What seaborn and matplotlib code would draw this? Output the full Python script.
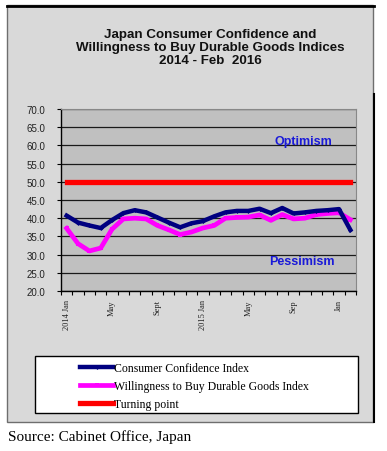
import numpy as np
import pandas as pd
import matplotlib
matplotlib.use("Agg")
import matplotlib.pyplot as plt
import seaborn as sns
from matplotlib.patches import Rectangle
from matplotlib.lines import Line2D

# ---- data (monthly, Jan 2014 .. Feb 2016) ----
months = ["2014 Jan", "Feb", "Mar", "Apr", "May", "Jun", "Jul", "Aug", "Sept", "Oct", "Nov", "Dec",
          "2015 Jan", "Feb", "Mar", "Apr", "May", "Jun", "Jul", "Aug", "Sep", "Oct", "Nov", "Dec",
          "Jan", "Feb"]
confidence = [40.7, 38.8, 38.0, 37.3, 39.5, 41.4, 42.2, 41.6, 40.2, 38.8, 37.5, 38.6,
              39.2, 40.5, 41.6, 42.0, 42.0, 42.6, 41.4, 42.8, 41.3, 41.6, 42.0, 42.2,
              42.5, 36.8]
willingness = [37.2, 33.0, 31.0, 31.8, 37.0, 39.8, 40.0, 39.8, 38.0, 36.8, 35.5, 36.2,
               37.3, 38.0, 40.0, 40.2, 40.3, 40.9, 39.4, 41.0, 39.8, 40.0, 41.0, 41.3,
               41.5, 39.6]
turning_point = [50.0] * 26
shown_ticks = [0, 4, 8, 12, 16, 20, 24]
shown_labels = ["2014 Jan", "May", "Sept", "2015 Jan", "May", "Sep", "Jan"]
yticks = [20, 25, 30, 35, 40, 45, 50, 55, 60, 65, 70]

df = pd.DataFrame({"month": np.arange(len(months)),
                   "confidence": confidence,
                   "willingness": willingness,
                   "turning": turning_point})

W, H = 387, 452
fig = plt.figure(figsize=(W / 100, H / 100), dpi=100)
fig.patch.set_facecolor("white")

def fx(px):
    return px / W

def fy(py):
    return 1 - py / H

# outer gray frame
fig.patches.append(Rectangle((fx(7), fy(423)), fx(373) - fx(7), fy(6) - fy(423),
                             transform=fig.transFigure, facecolor="#d9d9d9",
                             edgecolor="#6e6e6e", lw=1.0, zorder=-5))
fig.lines.append(Line2D([fx(7), fx(374)], [fy(6.5), fy(6.5)], transform=fig.transFigure,
                        color="black", lw=2.0, zorder=-4))
fig.lines.append(Line2D([fx(373.5), fx(373.5)], [fy(95), fy(423)], transform=fig.transFigure,
                        color="black", lw=1.5, zorder=-4))

# title
fig.text(fx(210), fy(48), "Japan Consumer Confidence and\nWillingness to Buy Durable Goods Indices\n2014 - Feb  2016",
         ha="center", va="center", fontsize=9.6, fontweight="bold", family="Liberation Sans",
         linespacing=1.1, color="#111111")

ax = fig.add_axes([fx(61), fy(292), fx(356) - fx(61), fy(110) - fy(292)])
ax.set_zorder(1)
ax.set_facecolor("#c0c0c0")

sns.lineplot(data=df, x="month", y="turning", ax=ax, color="#ff0000", lw=3.8,
             label="Turning point", zorder=3, solid_capstyle="projecting")
sns.lineplot(data=df, x="month", y="willingness", ax=ax, color="#ff00ff", lw=3.4,
             marker="s", markersize=3.2, markeredgewidth=0,
             label="Willingness to Buy Durable Goods Index", zorder=4)
sns.lineplot(data=df, x="month", y="confidence", ax=ax, color="#000080", lw=3.2,
             marker="D", markersize=2.5, markeredgewidth=0,
             label="Consumer Confidence Index", zorder=5)

ax.set_xlim(-0.5, len(months) - 0.5)
ax.set_ylim(20, 70)
ax.set_yticks(yticks)
ax.set_yticklabels([f"{v:.1f}" for v in yticks], fontsize=7, family="Liberation Sans", color="#222222")
ax.yaxis.grid(True, color="#1a1a1a", lw=0.9)
ax.set_axisbelow(True)
ax.set_xticks(np.arange(-0.5, len(months), 1.0))
ax.set_xticklabels([])
ax.set_xticks(shown_ticks, minor=True)
ax.set_xticklabels(shown_labels, minor=True, rotation=90, fontsize=6,
                   family="Liberation Serif", color="#222222", va="top")
ax.tick_params(axis="x", which="major", direction="out", length=3, width=0.8, color="black")
ax.tick_params(axis="x", which="minor", length=0, pad=6)
ax.tick_params(axis="y", direction="out", length=3, width=0.8, pad=8)
ax.set_xlabel("")
ax.set_ylabel("")
for s in ["top", "right"]:
    ax.spines[s].set_color("#888888")
    ax.spines[s].set_linewidth(0.8)
ax.spines["left"].set_color("black")
ax.spines["bottom"].set_color("black")
ax.spines["left"].set_linewidth(1.0)
ax.spines["bottom"].set_linewidth(1.0)

ax.text(20.87, 61.3, "Optimism", ha="center", va="center", fontsize=9,
        fontweight="bold", color="#1a1ad8", family="Liberation Sans")
ax.text(20.7, 28.3, "Pessimism", ha="center", va="center", fontsize=9,
        fontweight="bold", color="#1a1ad8", family="Liberation Sans")

handles, labels = ax.get_legend_handles_labels()
ax.get_legend().remove()
order = [labels.index("Consumer Confidence Index"),
         labels.index("Willingness to Buy Durable Goods Index"),
         labels.index("Turning point")]
handles = [handles[i] for i in order]
labels = [labels[i] for i in order]

# legend box
fig.patches.append(Rectangle((fx(35), fy(414)), fx(358) - fx(35), fy(357) - fy(414),
                             transform=fig.transFigure, facecolor="white",
                             edgecolor="black", lw=1.0, zorder=2))
leg = fig.legend(handles, labels, loc="upper left", bbox_to_anchor=(fx(71), fy(354)),
                 frameon=False, prop={"family": "Liberation Serif", "size": 8.5},
                 handlelength=2.75, handletextpad=0.1, labelspacing=0.5, borderpad=0.3)
leg.set_zorder(3)

fig.text(fx(8), fy(437), "Source: Cabinet Office, Japan", ha="left", va="center",
         fontsize=11, family="Liberation Serif", color="black")

fig.savefig("out.png", dpi=100)
